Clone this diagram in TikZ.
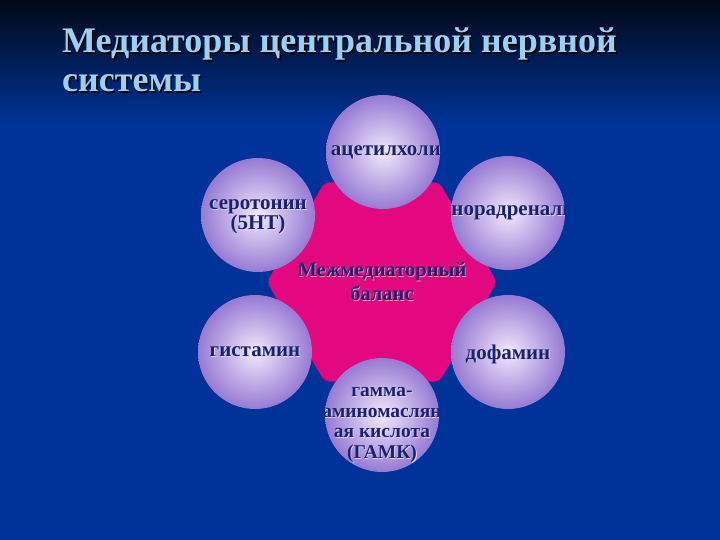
\documentclass[tikz,border=0pt]{standalone}
\usepackage{fontspec}
\setmainfont{Liberation Serif}
\usetikzlibrary{shapes.geometric}
\definecolor{slidebg}{RGB}{0,51,153}
\definecolor{slidetop}{RGB}{2,8,22}
\definecolor{titleblue}{RGB}{155,208,242}
\definecolor{hexpink}{RGB}{228,8,128}
\definecolor{bubbleedge}{RGB}{150,122,212}
\definecolor{bubblecore}{RGB}{242,232,252}
\definecolor{inkblue}{RGB}{26,34,110}
\tikzset{
  titletext/.style={font=\bfseries\fontsize{36}{40}\selectfont, inner sep=0pt, anchor=base west},
  inktext/.style={font=\bfseries\fontsize{21}{20.5}\selectfont, text=inkblue, align=center, inner sep=0pt},
  glowtext/.style={inktext, text=white!70!bubbleedge},
  bubble/.style 2 args={circle, minimum size=114pt, inner sep=0pt,
    shading=radial, inner color=bubblecore, outer color=bubbleedge,
    path picture={
      \node[glowtext, #1, xshift=0.8pt, yshift=-0.8pt] at (path picture bounding box.center) {#2};
      \node[inktext, #1] at (path picture bounding box.center) {#2};
    }},
}
\begin{document}
\begin{tikzpicture}[x=1pt, y=-1pt]
  \useasboundingbox (0,0) rectangle (720,540);
  % slide background
  \fill[slidebg] (0,0) rectangle (720,540);
  \shade[top color=slidetop, bottom color=slidebg] (0,0) rectangle (720,125);
  % title
  \node[titletext, text=black] at (63.5,54.5) {Медиаторы центральной нервной};
  \node[titletext, text=titleblue] (title1) at (62,53) {Медиаторы центральной нервной};
  \node[titletext, text=black] at (63.5,93.5) {системы};
  \node[titletext, text=titleblue] (title2) at (62,92) {системы};
  % central hexagon
  \node[regular polygon, regular polygon sides=6, minimum size=230pt, inner sep=0pt,
        fill=hexpink, rounded corners=5pt] (balance) at (382,282) {};
  % six mediators
  \node[bubble={shift={(9,0)}}{ацетилхолин}] (acetyl) at (383,152) {};
  \node[bubble={shift={(0,2)}}{серотонин\\(5НТ)}] (serot) at (258,215) {};
  \node[bubble={shift={(11,0)}}{норадреналин}] (noradr) at (508,213) {};
  \node[bubble={shift={(0,0)}}{гистамин}] (hist) at (255,352) {};
  \node[bubble={shift={(0,2)}}{дофамин}] (dopa) at (508,352) {};
  \node[bubble={shift={(0,10)}, font=\bfseries\fontsize{19.5}{20.5}\selectfont}{гамма-\\аминомаслян\\ая кислота\\(ГАМК)}] (gaba) at (382,415) {};
  % balance label
  \node[glowtext, text=white!55!hexpink, font=\bfseries\fontsize{20.5}{24}\selectfont,
        xshift=0.8pt, yshift=-0.8pt] at (balance.center) {Межмедиаторный\\баланс};
  \node[inktext, font=\bfseries\fontsize{20.5}{24}\selectfont] (balancetext) at (balance.center) {Межмедиаторный\\баланс};
\end{tikzpicture}
\end{document}
